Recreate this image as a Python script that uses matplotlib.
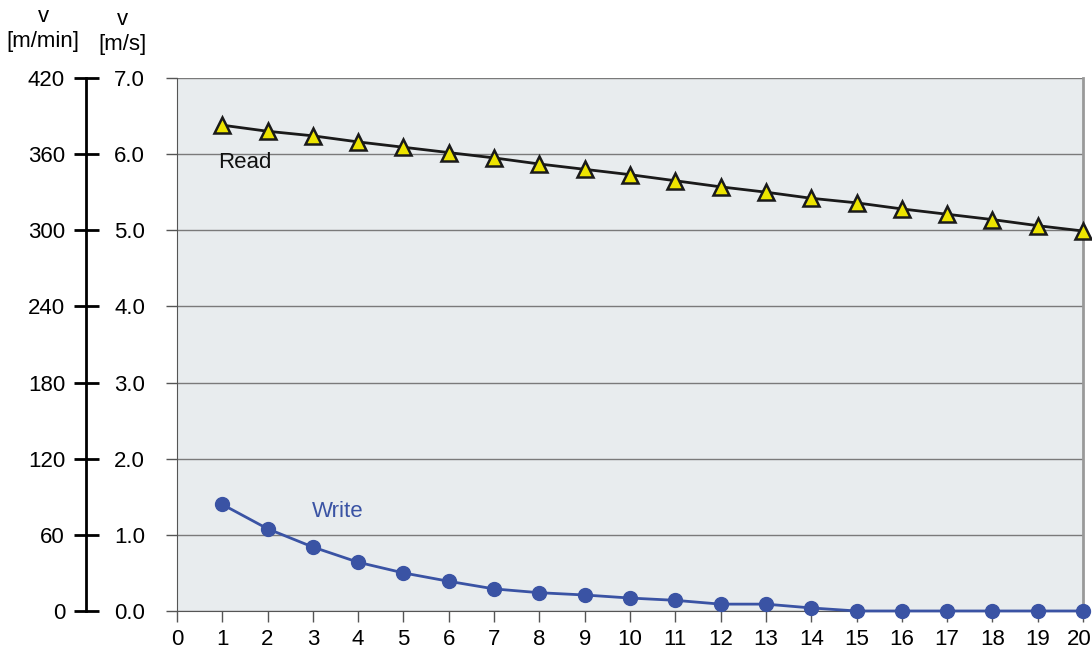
import matplotlib
matplotlib.use("Agg")
import matplotlib.pyplot as plt
import matplotlib.transforms as mtransforms

plt.rcParams['font.family'] = ['Liberation Sans', 'DejaVu Sans']

x = list(range(1, 21))
read_vals = [6.38, 6.30, 6.24, 6.16, 6.09, 6.02, 5.95, 5.87, 5.80, 5.73,
             5.65, 5.57, 5.50, 5.42, 5.36, 5.28, 5.21, 5.14, 5.06, 4.99]
write_vals = [1.40, 1.08, 0.84, 0.64, 0.50, 0.39, 0.29, 0.24, 0.21, 0.17,
              0.14, 0.09, 0.09, 0.04, 0.0, 0.0, 0.0, 0.0, 0.0, 0.0]
yticks_ms = [0.0, 1.0, 2.0, 3.0, 4.0, 5.0, 6.0, 7.0]
yticks_mmin = [0, 60, 120, 180, 240, 300, 360, 420]

FS = 16
write_color = '#3A53A4'
fig = plt.figure(figsize=(10.92, 6.55), dpi=100)
ax = fig.add_axes([0.162, 0.0672, 0.8298, 0.8138])
ax.set_facecolor('#E8ECEE')
ax.set_xlim(0, 20)
ax.set_ylim(0, 7)
ax.set_xticks(range(0, 21))
ax.set_yticks(yticks_ms)
ax.set_yticklabels([f"{v:.1f}" for v in yticks_ms])
ax.grid(axis='y', color='#7a7a7a', linewidth=1)
ax.set_axisbelow(True)
ax.tick_params(axis='both', labelsize=FS, color='#555555', length=8, width=1)
ax.tick_params(axis='y', pad=15)
ax.tick_params(axis='x', pad=5)
ax.spines['top'].set_visible(False)
ax.spines['left'].set_color('#555555')
ax.spines['bottom'].set_color('#555555')
ax.spines['right'].set_color('#999999')
ax.spines['right'].set_linewidth(2)

# nudge the last x tick label slightly left so it stays inside the figure
last = ax.get_xticklabels()[-1]
last.set_transform(last.get_transform() +
                   mtransforms.ScaledTranslation(-4 / 100, 0, fig.dpi_scale_trans))

ax.plot(x, write_vals, color=write_color, linewidth=2, marker='o',
        markersize=10, clip_on=False, zorder=3)
ax.plot(x, read_vals, color='#1a1a1a', linewidth=2, marker='^',
        markersize=11, markerfacecolor='#EDE400', markeredgecolor='#1a1a1a',
        markeredgewidth=1.8, clip_on=False, zorder=4)

ax.text(0.92, 5.89, 'Read', fontsize=FS, color='#111111', va='center', ha='left')
ax.text(2.98, 1.31, 'Write', fontsize=FS, color=write_color, va='center', ha='left')

sec = ax.secondary_yaxis(-0.1004, functions=(lambda v: v * 60, lambda v: v / 60))
sec.set_yticks(yticks_mmin)
sec.set_yticklabels([str(v) for v in yticks_mmin])
sec.spines['left'].set_color('black')
sec.spines['left'].set_linewidth(2)
sec.tick_params(axis='y', direction='inout', length=18, width=2, color='black',
                labelsize=FS, pad=6)

fig.text(43 / 1092, 1 - 29 / 655, 'v\n[m/min]', ha='center', va='center',
         fontsize=FS, linespacing=1.2)
fig.text(122 / 1092, 1 - 32 / 655, 'v\n[m/s]', ha='center', va='center',
         fontsize=FS, linespacing=1.2)

fig.savefig('out.png', dpi=100)
